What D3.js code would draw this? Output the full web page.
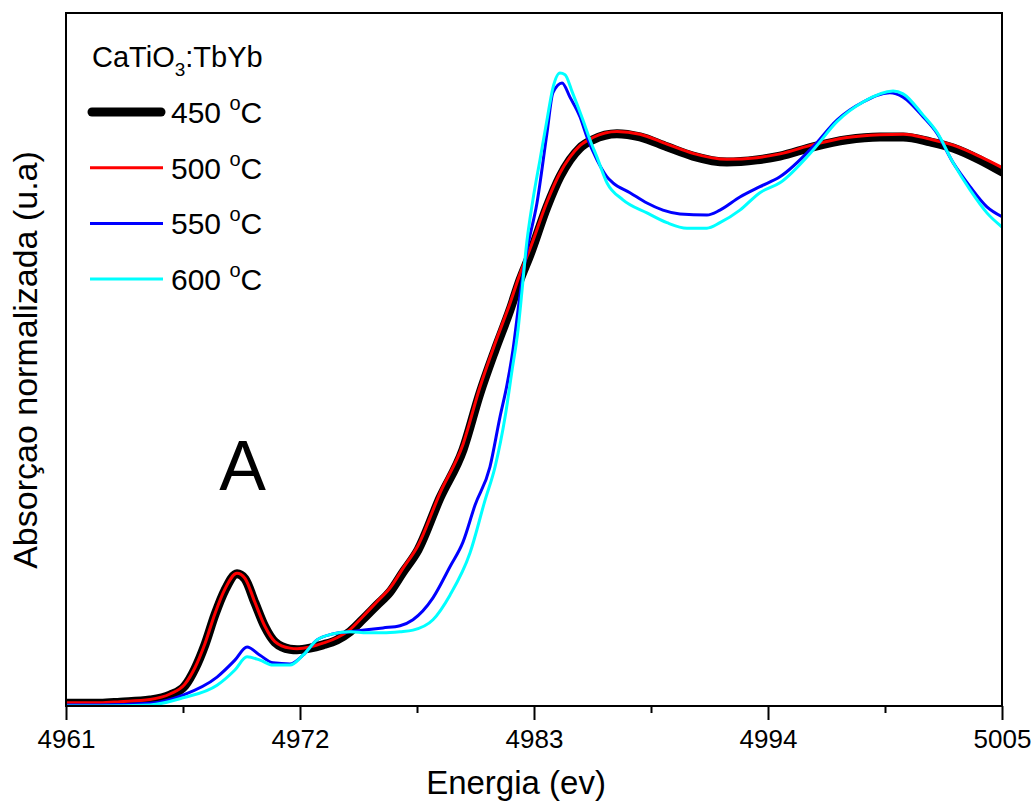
<!DOCTYPE html>
<html lang="pt">
<head>
<meta charset="UTF-8">
<title>CaTiO3:TbYb XANES</title>
<style>
  body { margin: 0; background: #fff; }
  svg text { font-family: "Liberation Sans", Arial, sans-serif; fill: #000; }
</style>
</head>
<body>
<script src="https://cdn.jsdelivr.net/npm/d3@7/dist/d3.min.js"></script>
<script>
// energy (eV) and normalized absorption
var e450 = [4961.00, 4962.60, 4963.54, 4964.95, 4965.89, 4966.59, 4967.06, 4967.53, 4968.00, 4968.47,
            4969.04, 4969.41, 4969.88, 4970.35, 4970.82, 4971.53, 4971.86, 4972.47, 4973.08, 4973.74,
            4974.35, 4974.96, 4975.62, 4976.23, 4976.84, 4977.55, 4978.58, 4979.66, 4980.46, 4981.17,
            4981.87, 4982.34, 4982.81, 4983.61, 4984.22, 4984.69, 4985.16, 4985.77, 4986.90, 4987.98,
            4989.25, 4990.47, 4992.07, 4993.48, 4994.56, 4996.12, 4997.71, 4999.26, 5000.35, 5001.62,
            5002.70, 5003.97, 5005.00];
var a450 = [0.005, 0.005, 0.007, 0.011, 0.020, 0.037, 0.068, 0.112, 0.167, 0.212,
            0.242, 0.233, 0.189, 0.145, 0.117, 0.104, 0.103, 0.106, 0.112, 0.121,
            0.136, 0.159, 0.185, 0.209, 0.245, 0.286, 0.381, 0.469, 0.573, 0.652,
            0.725, 0.780, 0.826, 0.914, 0.969, 1.000, 1.022, 1.037, 1.048, 1.042,
            1.024, 1.007, 0.996, 1.000, 1.007, 1.024, 1.037, 1.042, 1.042, 1.033,
            1.022, 1.000, 0.978];

var e500 = e450;
var a500 = [0.006, 0.006, 0.008, 0.012, 0.022, 0.040, 0.070, 0.114, 0.169, 0.214,
            0.243, 0.234, 0.190, 0.146, 0.118, 0.106, 0.105, 0.108, 0.115, 0.125,
            0.140, 0.164, 0.191, 0.216, 0.252, 0.294, 0.390, 0.479, 0.584, 0.664,
            0.737, 0.791, 0.837, 0.923, 0.976, 1.005, 1.026, 1.041, 1.052, 1.047,
            1.029, 1.012, 1.001, 1.004, 1.011, 1.028, 1.041, 1.046, 1.047, 1.038,
            1.027, 1.006, 0.986];

var e550 = [4961.00, 4962.60, 4964.95, 4966.50, 4968.10, 4968.94, 4969.51, 4970.12, 4970.73, 4971.53,
            4972.14, 4972.80, 4973.55, 4974.35, 4975.90, 4976.70, 4977.31, 4978.25, 4979.05, 4979.66,
            4980.23, 4980.93, 4981.40, 4981.73, 4982.01, 4982.25, 4982.44, 4982.67, 4983.14, 4983.61,
            4983.89, 4984.32, 4984.69, 4985.16, 4985.49, 4985.96, 4986.43, 4986.71, 4987.51, 4988.31,
            4989.06, 4989.86, 4991.13, 4991.74, 4992.68, 4993.62, 4994.56, 4996.12, 4997.24, 4998.47,
            4999.73, 5000.35, 5001.29, 5001.94, 5002.70, 5003.50, 5004.29, 5005.00];
var a550 = [0.002, 0.002, 0.005, 0.020, 0.053, 0.084, 0.108, 0.093, 0.079, 0.077,
            0.093, 0.121, 0.132, 0.136, 0.143, 0.147, 0.158, 0.198, 0.255, 0.300,
            0.368, 0.438, 0.529, 0.588, 0.652, 0.725, 0.780, 0.835, 0.921, 1.049,
            1.123, 1.141, 1.115, 1.079, 1.042, 1.000, 0.969, 0.958, 0.940, 0.921,
            0.908, 0.901, 0.899, 0.908, 0.932, 0.951, 0.969, 1.024, 1.073, 1.106,
            1.123, 1.115, 1.079, 1.049, 0.995, 0.951, 0.914, 0.896];

var e600 = [4961.00, 4962.60, 4964.95, 4966.50, 4968.10, 4968.94, 4969.51, 4970.12, 4970.73, 4971.53,
            4972.14, 4972.80, 4973.55, 4974.35, 4975.15, 4975.90, 4976.70, 4977.31, 4978.25, 4979.05,
            4979.99, 4980.70, 4981.17, 4981.64, 4981.97, 4982.25, 4982.44, 4982.62, 4982.95, 4983.28,
            4983.61, 4983.89, 4984.22, 4984.46, 4984.79, 4985.30, 4985.63, 4985.96, 4986.43, 4987.18,
            4988.31, 4989.25, 4990.19, 4991.13, 4991.74, 4992.68, 4993.62, 4994.56, 4996.12, 4997.24,
            4998.47, 4999.88, 5000.35, 5001.29, 5001.94, 5002.70, 5003.50, 5004.29, 5005.00];
var a600 = [0.000, 0.000, 0.002, 0.015, 0.038, 0.066, 0.090, 0.084, 0.075, 0.075,
            0.093, 0.121, 0.132, 0.136, 0.134, 0.134, 0.136, 0.139, 0.158, 0.203,
            0.280, 0.377, 0.438, 0.529, 0.615, 0.689, 0.762, 0.835, 0.927, 1.000,
            1.073, 1.132, 1.159, 1.156, 1.125, 1.073, 1.037, 1.005, 0.958, 0.927,
            0.903, 0.885, 0.875, 0.875, 0.885, 0.908, 0.940, 0.958, 1.018, 1.070,
            1.106, 1.126, 1.121, 1.082, 1.051, 0.995, 0.945, 0.903, 0.877];

var seriesNames = ["450", "500", "550", "600"];
var xTicks = [4961, 4972, 4983, 4994, 5005];
var xMinorTicks = [4966.5, 4977.5, 4988.5, 4999.5];

var series = [
  { name: seriesNames[0], e: e450, a: a450, color: "#000000", width: 9 },
  { name: seriesNames[1], e: e500, a: a500, color: "#ff0000", width: 3 },
  { name: seriesNames[2], e: e550, a: a550, color: "#0000ff", width: 3 },
  { name: seriesNames[3], e: e600, a: a600, color: "#00ffff", width: 3 }
];

var W = 1033, H = 801;
var margin = { left: 66, top: 13, right: 31, bottom: 95 };
var w = W - margin.left - margin.right,
    h = H - margin.top - margin.bottom;

var svg = d3.select("body").append("svg")
    .attr("width", W)
    .attr("height", H);

var g = svg.append("g")
    .attr("transform", "translate(" + margin.left + "," + margin.top + ")");

var x = d3.scaleLinear().domain([4961, 5005]).range([0, w]);
var y = d3.scaleLinear().domain([0, 1.269]).range([h, 0]);

g.append("clipPath").attr("id", "plot-clip")
  .append("rect").attr("width", w).attr("height", h);

var line = d3.line()
    .x(function(d) { return x(d[0]); })
    .y(function(d) { return y(d[1]); })
    .curve(d3.curveMonotoneX);

// curves
g.append("g").attr("clip-path", "url(#plot-clip)")
  .selectAll("path")
  .data(series)
  .enter().append("path")
    .attr("d", function(s) { return line(d3.zip(s.e, s.a)); })
    .attr("fill", "none")
    .attr("stroke", function(s) { return s.color; })
    .attr("stroke-width", function(s) { return s.width; })
    .attr("stroke-linejoin", "round")
    .attr("stroke-linecap", "round");

// bottom axis: major + minor ticks
var xAxis = d3.axisBottom(x).tickValues(xTicks).tickSize(14).tickPadding(10)
    .tickFormat(d3.format("d"));
var ax = g.append("g").attr("transform", "translate(0," + h + ")").call(xAxis);
ax.select(".domain").remove();
ax.selectAll(".tick line").attr("stroke", "#000").attr("stroke-width", 2);
ax.selectAll(".tick text").style("font-size", "26px").attr("fill", "#000");

g.append("g").attr("transform", "translate(0," + h + ")")
  .call(d3.axisBottom(x).tickValues(xMinorTicks).tickSize(7).tickFormat(""))
  .call(function(sel) {
    sel.select(".domain").remove();
    sel.selectAll(".tick line").attr("stroke", "#000").attr("stroke-width", 2);
  });

// frame
g.append("rect")
  .attr("width", w).attr("height", h)
  .attr("fill", "none").attr("stroke", "#000").attr("stroke-width", 2);

// axis titles
svg.append("text")
  .attr("x", 516).attr("y", 794)
  .attr("text-anchor", "middle")
  .style("font-size", "33px")
  .text("Energia (ev)");

svg.append("text")
  .attr("transform", "translate(37,360) rotate(-90)")
  .attr("text-anchor", "middle")
  .style("font-size", "34px")
  .text("Absorçao normalizada (u.a)");

// peak label
g.append("text")
  .attr("x", x(4969.3)).attr("y", 490 - margin.top)
  .attr("text-anchor", "middle")
  .style("font-size", "70px")
  .text("A");

// legend
var leg = svg.append("g");
var title = leg.append("text").attr("x", 92).attr("y", 67).style("font-size", "29px");
title.append("tspan").text("CaTiO");
title.append("tspan").attr("dy", 9).style("font-size", "19px").text("3");
title.append("tspan").attr("dy", -9).text(":TbYb");

var items = leg.selectAll("g.item")
  .data(series)
  .enter().append("g")
    .attr("class", "item")
    .attr("transform", function(d, i) { return "translate(0," + (112 + i * 55.7) + ")"; });

items.append("line")
  .attr("x1", function(d) { return d.width > 5 ? 92 : 90; })
  .attr("x2", function(d) { return d.width > 5 ? 161 : 163; })
  .attr("stroke", function(d) { return d.color; })
  .attr("stroke-width", function(d) { return d.width; })
  .attr("stroke-linecap", function(d) { return d.width > 5 ? "round" : "butt"; });

var lt = items.append("text").attr("x", 171).attr("y", 11).style("font-size", "30px");
lt.append("tspan").text(function(d) { return d.name + " "; });
lt.append("tspan").attr("dy", -13).style("font-size", "20px").text("o");
lt.append("tspan").attr("dy", 13).text("C");
</script>
</body>
</html>
